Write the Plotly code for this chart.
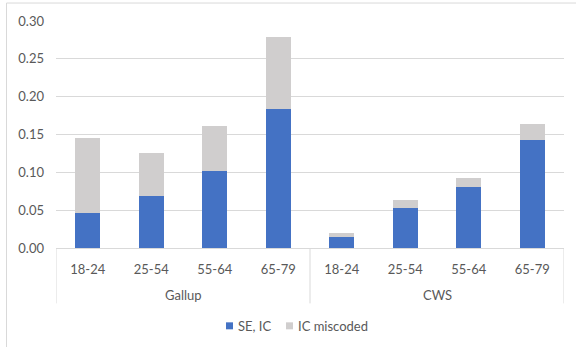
import plotly.graph_objects as go

groups = ["Gallup", "Gallup", "Gallup", "Gallup", "CWS", "CWS", "CWS", "CWS"]
ages = ["18-24", "25-54", "55-64", "65-79", "18-24", "25-54", "55-64", "65-79"]
se_ic = [0.046, 0.069, 0.102, 0.184, 0.014, 0.053, 0.081, 0.143]
ic_miscoded = [0.100, 0.057, 0.059, 0.095, 0.006, 0.011, 0.011, 0.021]
y_ticks = [0.00, 0.05, 0.10, 0.15, 0.20, 0.25, 0.30]
series_names = ["SE, IC", "IC miscoded"]
series_colors = ["#4472C4", "#D0CECE"]

W, H = 576, 347
L, R, T, B = 56, 12, 21, 98.5
pw, ph = W - L - R, H - T - B
TXT = "#595959"
GRID = "#D9D9D9"
FONT = "Lato, Open Sans, sans-serif"


def px_x(p):
    return (p - L) / pw


def px_y(p):
    return (H - B - p) / ph


pos = list(range(len(ages)))

fig = go.Figure()
for vals, name, col in zip([se_ic, ic_miscoded], series_names, series_colors):
    fig.add_trace(go.Bar(x=pos, y=vals, name=name, marker_color=col,
                         marker_line_width=0, showlegend=False))

# group labels and dividers
unique_groups = []
for g in groups:
    if g not in unique_groups:
        unique_groups.append(g)
annotations = []
shapes = []
bounds = [-0.5]
for g in unique_groups:
    idx = [i for i, gg in enumerate(groups) if gg == g]
    annotations.append(dict(x=sum(idx) / len(idx), xref="x", y=px_y(295.5), yref="paper",
                            text=g, showarrow=False, xanchor="center", yanchor="middle",
                            font=dict(family=FONT, size=13, color=TXT)))
    bounds.append(max(idx) + 0.5)
for b in bounds:
    shapes.append(dict(type="line", xref="x", yref="paper", x0=b, x1=b,
                       y0=0, y1=px_y(304), line=dict(color=GRID, width=1)))

# manual legend
leg = [(226, 236.5), (286, 296.5)]
for (sx, tx), name, col in zip(leg, series_names, series_colors):
    shapes.append(dict(type="rect", xref="paper", yref="paper",
                       x0=px_x(sx), x1=px_x(sx + 7), y0=px_y(330), y1=px_y(323),
                       line=dict(width=0), fillcolor=col))
    annotations.append(dict(x=px_x(tx), xref="paper", y=px_y(326.5), yref="paper",
                            text=name, showarrow=False, xanchor="left", yanchor="middle",
                            borderpad=0, font=dict(family=FONT, size=13, color=TXT)))

# chart border (extends past the right and bottom edges, as in the reference crop)
shapes.append(dict(type="rect", xref="paper", yref="paper",
                   x0=px_x(6.5), x1=px_x(580), y0=px_y(352), y1=px_y(3),
                   line=dict(color=GRID, width=1), fillcolor="rgba(0,0,0,0)", layer="below"))

fig.update_layout(
    barmode="stack",
    bargap=0.61,
    width=W, height=H,
    margin=dict(l=L, r=R, t=T, b=B, pad=0),
    paper_bgcolor="white",
    plot_bgcolor="white",
    font=dict(family=FONT, size=13, color=TXT),
    showlegend=False,
    hovermode=False,
    xaxis=dict(range=[-0.5, len(ages) - 0.5], tickvals=pos, ticktext=ages,
               showline=True, linecolor=GRID, linewidth=1, ticks="",
               showgrid=False, zeroline=False, automargin=False,
               ticklabelstandoff=9,
               tickfont=dict(family=FONT, size=13, color=TXT)),
    yaxis=dict(range=[0, 0.30], tickvals=y_ticks, tickformat=".2f", showgrid=True,
               gridcolor=GRID, gridwidth=1, zeroline=False, showline=False,
               ticks="", automargin=False, ticklabelstandoff=11,
               tickfont=dict(family=FONT, size=13, color=TXT)),
    annotations=annotations,
    shapes=shapes,
)

fig.write_html("out.html", config={"displayModeBar": False},
               post_script="document.body.style.margin='0';document.body.style.overflow='hidden';")
